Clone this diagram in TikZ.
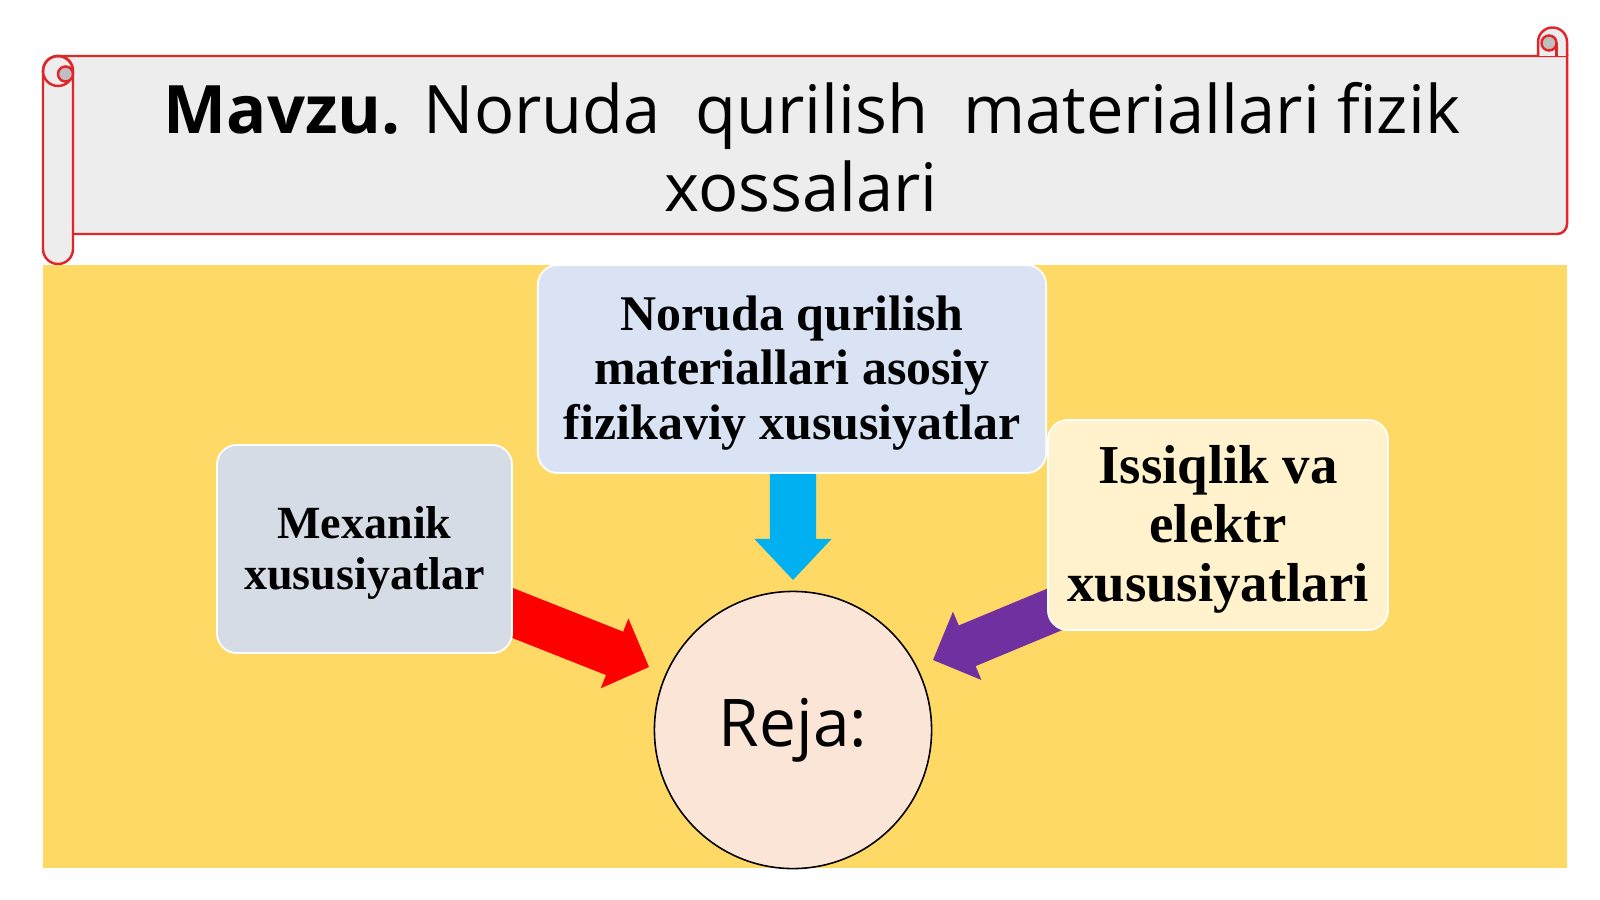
\documentclass[tikz,border=0pt]{standalone}
\usepackage{fontspec}
\usetikzlibrary{calc}
\newfontfamily\titlefont{Open Sans}
\newfontfamily\boxfont{Liberation Serif}
\definecolor{panel}{HTML}{FFD966}
\definecolor{scrollred}{HTML}{E0262B}
\definecolor{scrollgrey}{HTML}{EDEDED}
\definecolor{curlgrey}{HTML}{BFBFBF}
\definecolor{topbox}{HTML}{DAE3F3}
\definecolor{leftbox}{HTML}{D6DCE5}
\definecolor{rightbox}{HTML}{FFF2CC}
\definecolor{circfill}{HTML}{FBE5D6}
\definecolor{arrblue}{HTML}{00B0F0}
\definecolor{arrred}{HTML}{FF0000}
\definecolor{arrpurple}{HTML}{7030A0}
\newcommand\blockarr[6]{%
  \coordinate (hb-#1) at ($(#2)!#5!(#1)$);
  \fill[#6] ($(#1)!#3!-90:(#2)$) -- ($(hb-#1)!#3!90:(#1)$) -- ($(hb-#1)!#4!90:(#1)$) -- (#2)
     -- ($(hb-#1)!#4!-90:(#1)$) -- ($(hb-#1)!#3!-90:(#1)$) -- ($(#1)!#3!90:(#2)$) -- cycle;
}
\begin{document}
\begin{tikzpicture}[x=0.01cm,y=0.01cm,
  scroll/.style={draw=scrollred, fill=scrollgrey, line width=0.7pt},
  curl/.style={draw=scrollred, fill=curlgrey, line width=0.7pt},
  infobox/.style={rectangle, rounded corners=0.2cm, draw=white, line width=0.5pt, inner sep=0pt},
  boxtext/.style={align=center, inner sep=0pt, yshift=-0.04cm},
  titletext/.style={font=\titlefont\fontsize{19.0}{22.2}\selectfont, inner sep=0pt, anchor=base}]
\useasboundingbox (0,0) rectangle (1600,899);
\fill[white] (0,0) rectangle (1600,899);

% scroll banner
\path[scroll] (58,843) -- (1567,843) -- (1567,675) arc[start angle=0,end angle=-90,radius=0.1cm] -- (58,665) -- cycle;
\fill[scrollgrey] (1538,843) -- (1538,857) arc[start angle=180,end angle=0,radius=0.145cm] -- (1567,843) -- cycle;
\draw[scrollred, line width=0.7pt] (1538,843) -- (1538,857) arc[start angle=180,end angle=0,radius=0.145cm] -- (1567,843);
\draw[curl] (1549,856) circle[radius=0.075cm];
\draw[scrollred, line width=0.7pt] (1556.5,856) -- (1556.5,843);
\path[scroll] (43,828) -- (43,650) arc[start angle=180,end angle=360,radius=0.15cm] -- (73,828) arc[start angle=0,end angle=180,radius=0.15cm] -- cycle;
\draw[scrollred, line width=0.7pt] (58,828) circle[radius=0.15cm];
\draw[curl] (65.5,825) circle[radius=0.075cm];

\node[titletext] (title1) at (812,766) {\textbf{Mavzu.} Noruda\ \ qurilish\ \ materiallari fizik};
\node[titletext] (title2) at (801,688) {xossalari};

% panel
\fill[panel] (43,31) rectangle (1567,634);

% arrows
\coordinate (bs) at (793,440);
\coordinate (be) at (793,319);
\coordinate (rs) at (500,291);
\coordinate (re) at (649,232);
\coordinate (ps) at (1070,296);
\coordinate (pe) at (933,239);
\blockarr{bs}{be}{0.23cm}{0.385cm}{0.41cm}{arrblue}
\blockarr{rs}{re}{0.233cm}{0.375cm}{0.37cm}{arrred}
\blockarr{ps}{pe}{0.22cm}{0.37cm}{0.37cm}{arrpurple}

% boxes
\node[infobox, fill=topbox, minimum width=5.08cm, minimum height=2.08cm] (top) at (792,530) {};
\node[boxtext, font=\boxfont\bfseries\fontsize{14.2}{15.4}\selectfont] (toptext) at (top.center)
  {Noruda qurilish\\materiallari asosiy\\fizikaviy xususiyatlar};
\node[infobox, fill=leftbox, minimum width=2.95cm, minimum height=2.08cm] (left) at (364.5,350) {};
\node[boxtext, font=\boxfont\bfseries\fontsize{13.1}{14.5}\selectfont] (lefttext) at (left.center)
  {Mexanik\\xususiyatlar};
\node[infobox, fill=rightbox, minimum width=3.4cm, minimum height=2.1cm] (right) at (1218,374) {};
\node[boxtext, font=\boxfont\bfseries\fontsize{15.6}{16.8}\selectfont] (righttext) at (right.center)
  {Issiqlik va\\elektr\\xususiyatlari};

\node[circle, draw=black, line width=0.45pt, fill=circfill, minimum size=2.77cm, inner sep=0pt,
  font=\titlefont\fontsize{18.7}{22}\selectfont] (reja) at (793,169) {Reja:};
\end{tikzpicture}
\end{document}
